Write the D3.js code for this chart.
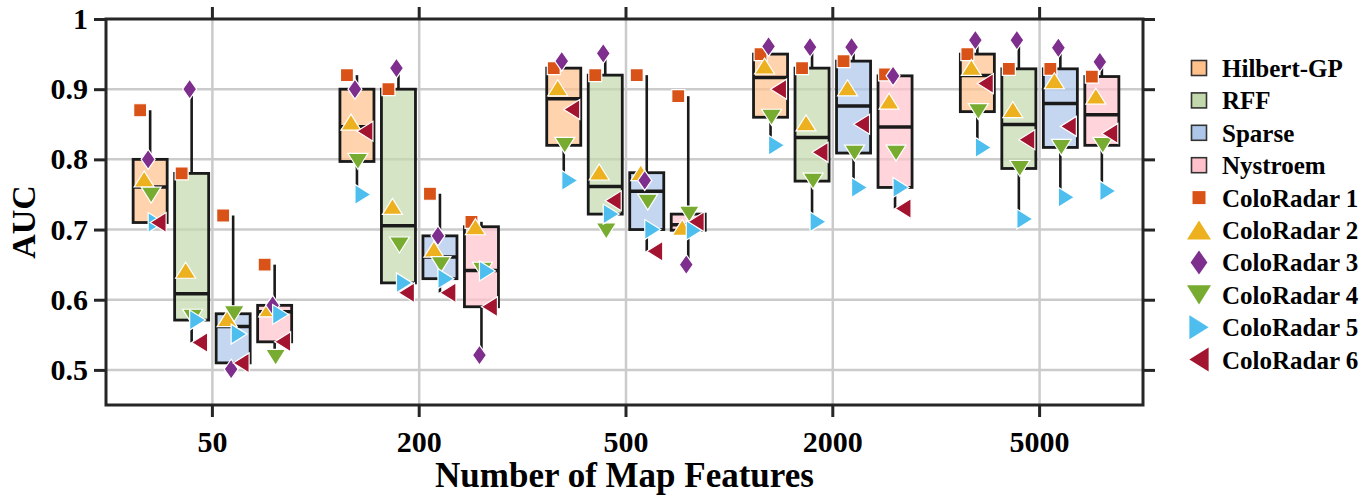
<!DOCTYPE html>
<html>
<head>
<meta charset="utf-8">
<script src="https://cdn.jsdelivr.net/npm/d3@7"></script>
<style>
  body { margin: 0; background: #fff; }
  text { font-family: "Liberation Serif", "Times New Roman", serif; font-weight: bold; fill: #000; }
</style>
</head>
<body>
<svg id="chart" width="1372" height="496"></svg>
<script>
// categories
const groups = ["50", "200", "500", "2000", "5000"];
const methods = ["Hilbert-GP", "RFF", "Sparse", "Nystroem"];
const datasets = ["ColoRadar 1", "ColoRadar 2", "ColoRadar 3", "ColoRadar 4", "ColoRadar 5", "ColoRadar 6"];
const yTicks = [0.5, 0.6, 0.7, 0.8, 0.9, 1];

// AUC per group (rows) and per dataset ColoRadar 1..6 (columns)
const hilbertGP = [
  [0.87, 0.772, 0.80, 0.749, 0.71, 0.71],
  [0.92, 0.853, 0.90, 0.797, 0.75, 0.84],
  [0.93, 0.902, 0.94, 0.82, 0.77, 0.871],
  [0.95, 0.933, 0.961, 0.86, 0.82, 0.90],
  [0.95, 0.931, 0.97, 0.868, 0.817, 0.908]
];
const rff = [
  [0.78, 0.642, 0.90, 0.575, 0.571, 0.539],
  [0.90, 0.733, 0.93, 0.678, 0.624, 0.61],
  [0.92, 0.782, 0.951, 0.698, 0.722, 0.741],
  [0.93, 0.852, 0.96, 0.769, 0.711, 0.81],
  [0.929, 0.871, 0.97, 0.787, 0.715, 0.828]
];
const sparse = [
  [0.72, 0.573, 0.501, 0.58, 0.551, 0.51],
  [0.751, 0.672, 0.691, 0.65, 0.63, 0.61],
  [0.92, 0.781, 0.77, 0.739, 0.70, 0.669],
  [0.94, 0.902, 0.96, 0.809, 0.76, 0.85],
  [0.929, 0.912, 0.959, 0.817, 0.746, 0.847]
];
const nystroem = [
  [0.65, 0.587, 0.592, 0.518, 0.579, 0.54],
  [0.711, 0.704, 0.521, 0.642, 0.641, 0.59],
  [0.89, 0.703, 0.65, 0.722, 0.699, 0.711],
  [0.921, 0.883, 0.919, 0.809, 0.76, 0.73],
  [0.918, 0.89, 0.939, 0.82, 0.755, 0.837]
];
const methodData = [hilbertGP, rff, sparse, nystroem];

const methodColors = ["#FFC08A", "#C2D8AC", "#ADC6E9", "#FFC2CC"];
const datasetColors = ["#D95319", "#EDB120", "#7E2F8E", "#77AC30", "#4DBEEE", "#A2142F"];
const datasetShapes = ["square", "up", "diamond", "down", "right", "left"];
const datasetOffsets = [-10, -6, -2, 1, 6, 8];

const pLeft = 106, pRight = 1143, pTop = 19, pBottom = 405;
const ink = "#262626";

const svg = d3.select("#chart");

const y = d3.scaleLinear().domain([0.45, 1]).range([pBottom, pTop]);
const x = d3.scaleBand().domain(groups).range([109, pRight]);
const xm = d3.scaleBand().domain(methods).range([-83, 83]).paddingInner(0.18).paddingOuter(0.09);
const gx = g => x(g) + x.bandwidth() / 2;

// marker shapes, centred on (0,0)
function shapePath(type, s) {
  const p = d3.path();
  if (type === "square") {
    p.rect(-6.5, -6.5, 13, 13);
    return p.toString();
  }
  if (type === "diamond") {
    p.moveTo(0, -10 * s); p.lineTo(7 * s, 0); p.lineTo(0, 10 * s); p.lineTo(-7 * s, 0);
  } else if (type === "up") {
    p.moveTo(0, -8 * s); p.lineTo(10 * s, 8 * s); p.lineTo(-10 * s, 8 * s);
  } else if (type === "down") {
    p.moveTo(0, 8 * s); p.lineTo(10 * s, -8 * s); p.lineTo(-10 * s, -8 * s);
  } else if (type === "right") {
    p.moveTo(8 * s, 0); p.lineTo(-8 * s, -10 * s); p.lineTo(-8 * s, 10 * s);
  } else if (type === "left") {
    p.moveTo(-8 * s, 0); p.lineTo(8 * s, -10 * s); p.lineTo(8 * s, 10 * s);
  }
  p.closePath();
  return p.toString();
}

// MATLAB style percentile (n*p + 0.5 position)
function pct(sorted, p) {
  const n = sorted.length;
  const pos = n * p + 0.5;
  if (pos <= 1) return sorted[0];
  if (pos >= n) return sorted[n - 1];
  const lo = Math.floor(pos), f = pos - lo;
  return sorted[lo - 1] + f * (sorted[lo] - sorted[lo - 1]);
}

// grid
svg.append("g").selectAll("line").data(yTicks.filter(d => d < 1)).join("line")
  .attr("x1", pLeft).attr("x2", pRight)
  .attr("y1", d => y(d)).attr("y2", d => y(d))
  .attr("stroke", "#cbcbcb").attr("stroke-width", 2.5);
svg.append("g").selectAll("line").data(groups).join("line")
  .attr("x1", d => gx(d)).attr("x2", d => gx(d))
  .attr("y1", pTop).attr("y2", pBottom)
  .attr("stroke", "#cbcbcb").attr("stroke-width", 2.5);

// boxes
const boxes = [];
groups.forEach((g, gi) => {
  methods.forEach((m, mi) => {
    const vals = methodData[mi][gi];
    const s = vals.slice().sort(d3.ascending);
    boxes.push({
      g, m, mi, vals,
      cx: gx(g) + xm(m) + xm.bandwidth() / 2,
      q1: pct(s, 0.25), med: pct(s, 0.5), q3: pct(s, 0.75),
      lo: s[0], hi: s[s.length - 1]
    });
  });
});

const bw = xm.bandwidth();
const bg = svg.append("g").selectAll("g").data(boxes).join("g");

bg.append("line")
  .attr("x1", d => d.cx).attr("x2", d => d.cx)
  .attr("y1", d => y(d.hi)).attr("y2", d => y(d.q3))
  .attr("stroke", "#1a1a1a").attr("stroke-width", 2.6);
bg.append("line")
  .attr("x1", d => d.cx).attr("x2", d => d.cx)
  .attr("y1", d => y(d.q1)).attr("y2", d => y(d.lo))
  .attr("stroke", "#1a1a1a").attr("stroke-width", 2.6);
bg.append("rect")
  .attr("x", d => d.cx - bw / 2).attr("width", bw)
  .attr("y", d => y(d.q3)).attr("height", d => y(d.q1) - y(d.q3))
  .attr("fill", d => methodColors[d.mi]).attr("fill-opacity", 0.7)
  .attr("stroke", "#1a1a1a").attr("stroke-width", 2.8);
bg.append("line")
  .attr("x1", d => d.cx - bw / 2).attr("x2", d => d.cx + bw / 2)
  .attr("y1", d => y(d.med)).attr("y2", d => y(d.med))
  .attr("stroke", "#1a1a1a").attr("stroke-width", 3.5);

// points
bg.selectAll("path").data(d => d.vals.map((v, k) => ({ v, k, cx: d.cx }))).join("path")
  .attr("d", d => shapePath(datasetShapes[d.k], 1))
  .attr("transform", d => `translate(${d.cx + datasetOffsets[d.k]},${y(d.v)})`)
  .attr("fill", d => datasetColors[d.k])
  .attr("stroke", "#fff").attr("stroke-width", 1.2);

// frame and axes
svg.append("rect")
  .attr("x", pLeft).attr("y", pTop).attr("width", pRight - pLeft).attr("height", pBottom - pTop)
  .attr("fill", "none").attr("stroke", ink).attr("stroke-width", 3);

function styleAxis(sel) {
  sel.select(".domain").remove();
  sel.selectAll(".tick line").attr("stroke", ink).attr("stroke-width", 3);
  sel.selectAll(".tick text").style("font-size", "30px").attr("fill", "#000");
}

svg.append("g").attr("transform", `translate(${pLeft},0)`)
  .call(d3.axisLeft(y).tickValues(yTicks).tickFormat(d3.format("~g")).tickSize(12).tickPadding(6))
  .call(styleAxis);
svg.append("g").attr("transform", `translate(${pRight},0)`)
  .call(d3.axisRight(y).tickValues(yTicks).tickFormat("").tickSize(12))
  .call(styleAxis);
svg.append("g").attr("transform", `translate(0,${pBottom})`)
  .call(d3.axisBottom(x).tickSize(12).tickPadding(14))
  .call(styleAxis);
svg.append("g").attr("transform", `translate(0,${pTop})`)
  .call(d3.axisTop(x).tickFormat("").tickSize(12))
  .call(styleAxis);

// axis titles
svg.append("text")
  .attr("x", (pLeft + pRight) / 2).attr("y", 487)
  .attr("text-anchor", "middle").style("font-size", "35px")
  .text("Number of Map Features");
svg.append("text")
  .attr("transform", "translate(35,222) rotate(-90)")
  .attr("text-anchor", "middle").style("font-size", "34px")
  .text("AUC");

// legend
const legendItems = methods.map((m, i) => ({ label: m, kind: "box", i }))
  .concat(datasets.map((d, k) => ({ label: d, kind: "pt", i: k })));
const lg = svg.append("g").selectAll("g").data(legendItems).join("g")
  .attr("transform", (d, i) => `translate(1199,${68 + i * 32.4})`);
lg.filter(d => d.kind === "box").append("rect")
  .attr("x", -7.5).attr("y", -7.5).attr("width", 15).attr("height", 15)
  .attr("fill", d => methodColors[d.i]).attr("stroke", "#333").attr("stroke-width", 1.6);
lg.filter(d => d.kind === "pt").append("path")
  .attr("d", d => shapePath(datasetShapes[d.i], 1.2))
  .attr("fill", d => datasetColors[d.i]);
lg.append("text")
  .attr("x", 23).attr("y", 9)
  .style("font-size", "25px")
  .text(d => d.label);
</script>
</body>
</html>
